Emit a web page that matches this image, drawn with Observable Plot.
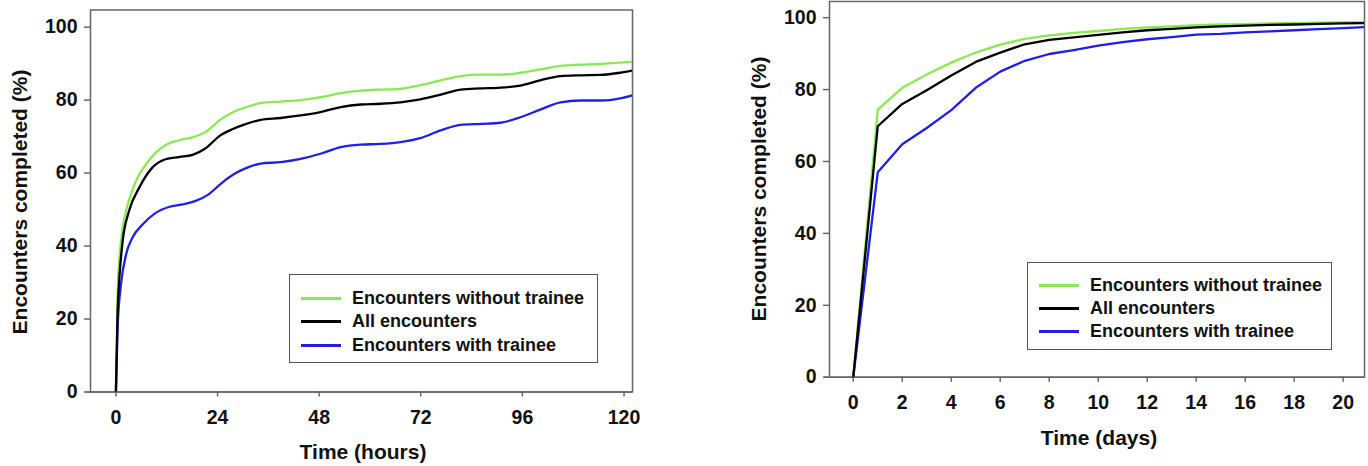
<!DOCTYPE html>
<html><head><meta charset="utf-8">
<script src="https://cdn.jsdelivr.net/npm/d3@7"></script>
<script src="https://cdn.jsdelivr.net/npm/@observablehq/plot@0.6"></script>
<style>
body{margin:0;background:#fff;width:1368px;height:466px;overflow:hidden;position:relative;font-family:"Liberation Sans",Arial,sans-serif;}
.panel{position:absolute;top:0}
.lab{position:absolute;font-weight:bold;font-size:21px;white-space:nowrap;color:#111;transform:translate(-50%,-50%)}
.lab.rot{transform:translate(-50%,-50%) rotate(-90deg)}
.legend{position:absolute;border:1.5px solid #555;background:#fff;box-sizing:border-box}
.row{position:absolute;left:0;height:20px;line-height:20px;font-weight:bold;font-size:18px;color:#111;white-space:nowrap}
.sw{position:absolute;height:3px;top:9px}
.txt{position:absolute;top:0}
</style>
</head><body>
<div id="left" class="panel" style="left:0"></div>
<div id="right" class="panel" style="left:690px"></div>
<script>
// ---------- data: left panel (hours) ----------
const seriesNames = ["Encounters without trainee", "All encounters", "Encounters with trainee"];
const seriesColors = ["#8ae852", "#000000", "#1f1fe6"];

const hoursGreen = [0,0.4,0.8,1.6,2.8,4.7,7.1,9.4,12.2,14.9,18.1,21.2,24.5,27.5,30.6,34.2,38.9,43.6,48.3,53.1,57.8,62.5,67.2,71.9,76.7,81.4,86.1,90.8,95.5,100.2,105,109.7,114.4,119.1,122];
const pctGreenH  = [0,27,36,45,51.4,57.8,62.4,65.6,68,69,69.8,71.3,74.5,76.6,78,79.2,79.6,80,80.8,81.9,82.6,82.9,83.1,84.1,85.4,86.6,87,87,87.5,88.4,89.4,89.7,89.9,90.3,90.5];

const hoursAll = [0,0.4,0.8,1.6,3.1,5.5,8.6,11.7,14.9,18.1,21.2,24.5,27.5,30.6,34.2,38.9,43.6,48.3,53.1,57.8,62.5,67.2,71.9,76.7,81.4,86.1,90.8,95.5,100.2,105,109.7,114.4,119.1,122];
const pctAllH  = [0,22,31,41.4,49.6,56,61.5,63.8,64.4,65,66.8,70.2,72,73.4,74.6,75.1,75.8,76.7,78.1,78.8,79,79.4,80.2,81.5,82.9,83.2,83.4,84,85.4,86.6,86.8,86.9,87.5,88.1];

const hoursBlue = [0,0.4,1.2,2.4,3.9,6.3,9.4,12.5,15.6,18.7,21.8,24.9,28,30.6,34.2,38.9,43.6,48.3,53.1,57.8,62.5,67.2,71.9,76.7,81.4,86.1,90.8,95.5,100.2,105,109.7,114.4,119.1,122];
const pctBlueH  = [0,17.6,29.5,37.7,42.3,45.9,49.1,50.7,51.4,52.3,54.1,57.2,59.8,61.3,62.6,63,63.9,65.3,67.1,67.8,68,68.5,69.6,71.7,73.2,73.5,73.8,75.3,77.4,79.4,79.9,79.9,80.5,81.3];

const hourTicks = [0,24,48,72,96,120];
const pctTicks = [0,20,40,60,80,100];

// ---------- data: right panel (days) ----------
const days = [0,1,2,3,4,5,6,7,8,9,10,11,12,13,14,15,16,17,18,19,20,21];
const pctGreenD = [0,74.4,80.5,84.2,87.5,90.3,92.5,94.1,95.1,95.8,96.3,96.9,97.3,97.6,97.9,98.1,98.2,98.4,98.5,98.6,98.7,98.8];
const pctAllD   = [0,69.8,76,79.8,83.9,87.7,90.3,92.6,93.8,94.5,95.2,95.9,96.5,96.9,97.3,97.6,97.8,98,98.1,98.3,98.4,98.5];
const pctBlueD  = [0,57,64.8,69.3,74.3,80.5,85,88,89.9,91,92.2,93.2,94,94.6,95.3,95.5,95.9,96.2,96.5,96.8,97.1,97.4];
const dayTicks = [0,2,4,6,8,10,12,14,16,18,20];

const zip = (xs, ys) => xs.map((x, i) => ({x, y: ys[i]}));
const font = '"Liberation Sans", Arial, sans-serif';

function panel({width, ml, mr, mt, mb, xdom, ydom, xticks, series, curve, ruleStart}) {
  const order = [0, 2, 1]; // draw green, blue, then black
  return Plot.plot({
    width, height: 466,
    marginLeft: ml, marginRight: mr, marginTop: mt, marginBottom: mb,
    x: {domain: xdom},
    y: {domain: ydom},
    style: {fontFamily: font, fontWeight: "bold", fontSize: "19.5px", color: "#111", background: "transparent"},
    marks: [
      Plot.frame({stroke: "#666", strokeWidth: 1.5}),
      Plot.ruleY([0], {x1: ruleStart, x2: xdom[1], stroke: "#666", strokeWidth: 1.5}),
      Plot.axisY({ticks: pctTicks, tickSize: 6, tickPadding: 7, stroke: "#666", strokeWidth: 1.5, fill: "#111", label: null, fontSize: 19.5}),
      Plot.axisX({ticks: xticks, tickSize: 5, tickPadding: 13, stroke: "#666", strokeWidth: 1.5, fill: "#111", label: null, fontSize: 19.5}),
      ...order.map(i => Plot.line(series[i], {x: "x", y: "y", stroke: seriesColors[i], strokeWidth: 2.3, curve, clip: true}))
    ]
  });
}

document.getElementById("left").append(panel({
  width: 680, ml: 90, mr: 48, mt: 9.5, mb: 74.5,
  xdom: [-6, 122], ydom: [0, 104.7], xticks: hourTicks, curve: "monotone-x", ruleStart: -7,
  series: [zip(hoursGreen, pctGreenH), zip(hoursAll, pctAllH), zip(hoursBlue, pctBlueH)]
}));
document.getElementById("right").append(panel({
  width: 678, ml: 139, mr: 4, mt: 1, mb: 89.3,
  xdom: [-0.97, 20.87], ydom: [0, 104.5], xticks: dayTicks, curve: "linear", ruleStart: -1.17,
  series: [zip(days, pctGreenD), zip(days, pctAllD), zip(days, pctBlueD)]
}));

// axis titles
function label(text, x, y, rot) {
  const d = document.createElement("div");
  d.className = "lab" + (rot ? " rot" : "");
  d.style.left = x + "px"; d.style.top = y + "px";
  d.textContent = text;
  document.body.append(d);
}
label("Encounters completed (%)", 20, 202, true);
label("Time (hours)", 363, 452, false);
label("Encounters completed (%)", 759, 189, true);
label("Time (days)", 1099, 438, false);

// legends
function legend(left, top, w, h, rowsY) {
  const box = document.createElement("div");
  box.className = "legend";
  Object.assign(box.style, {left: left + "px", top: top + "px", width: w + "px", height: h + "px"});
  seriesNames.forEach((name, i) => {
    const r = document.createElement("div");
    r.className = "row";
    r.style.top = (rowsY[i] - 10) + "px";
    const sw = document.createElement("div");
    sw.className = "sw";
    Object.assign(sw.style, {left: "11px", width: "40px", background: seriesColors[i]});
    const t = document.createElement("div");
    t.className = "txt";
    t.style.left = "62px";
    t.textContent = name;
    r.append(sw, t);
    box.append(r);
  });
  document.body.append(box);
}
legend(289, 274, 309, 89, [23, 46, 70]);
legend(1027, 262, 305, 88, [22, 45, 68]);
</script>
</body></html>
